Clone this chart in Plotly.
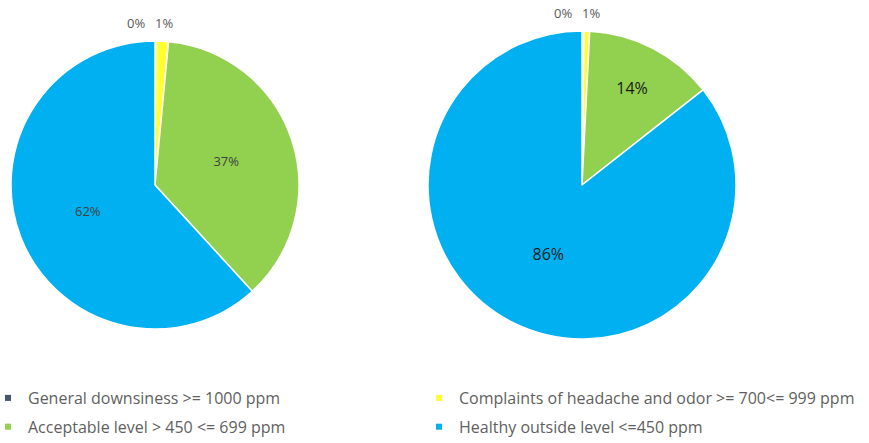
import plotly.graph_objects as go

# CO2 level categories (shared by both pies)
categories = [
    "General downsiness >= 1000 ppm",
    "Complaints of headache and odor >= 700<= 999 ppm",
    "Acceptable level > 450 <= 699 ppm",
    "Healthy outside level <=450 ppm",
]
colors = ["#44546A", "#FFFF33", "#92D050", "#00B0F0"]

# Share of measurements per category (percent)
left_values = [0.1, 1.4, 36.7, 61.8]
right_values = [0.2, 0.6, 13.6, 85.6]

W, H = 869, 443


def domain(cx, cy, r):
    """Pie domain (paper fractions) from a centre and radius in pixels."""
    return dict(
        x=[(cx - r) / W, (cx + r) / W],
        y=[(H - cy - r) / H, (H - cy + r) / H],
    )


def pct(values):
    total = sum(values)
    return [f"{round(v / total * 100)}%" for v in values]


fig = go.Figure()

pies = [
    (left_values, (155, 185, 144), dict(color="#404040", size=13)),
    (right_values, (582, 185, 154), dict(color="#1a1a1a", size=16)),
]

annotations = []
for values, (cx, cy, r), inner_font in pies:
    fig.add_trace(go.Pie(
        labels=categories,
        values=values,
        sort=False,
        direction="clockwise",
        rotation=0,
        marker=dict(colors=colors, line=dict(color="white", width=1.5)),
        texttemplate="%{percent:.0%}",
        # the two thin slices get their labels above the pie instead
        textposition=["none", "none", "inside", "inside"],
        insidetextorientation="horizontal",
        insidetextfont=inner_font,
        hoverinfo="label+percent",
        showlegend=False,
        domain=domain(cx, cy, r),
    ))
    # small-slice labels side by side above the top of the pie
    texts = pct(values)
    for text, dx in zip(texts[:2], (-19, 9)):
        annotations.append(dict(
            x=(cx + dx) / W, y=1 - (cy - r - 18) / H,
            xref="paper", yref="paper",
            text=text, showarrow=False,
            xanchor="center", yanchor="middle",
            font=dict(color="#595959", size=13),
        ))

# Legend entries: two columns, each its own legend
legend_of = ["legend", "legend2", "legend", "legend2"]
for i, (name, col) in enumerate(zip(categories, colors)):
    fig.add_trace(go.Scatter(
        x=[None], y=[None], mode="markers", name=name,
        marker=dict(symbol="square", size=6, color=col),
        legendgroup=f"g{i}",
        legend=legend_of[i],
        hoverinfo="skip",
    ))

legend_style = dict(
    orientation="v",
    yanchor="top",
    xanchor="left",
    bgcolor="rgba(0,0,0,0)",
    font=dict(family="Open Sans, sans-serif", size=16, color="#5f5f5f"),
    tracegroupgap=5,
    itemclick=False,
    itemdoubleclick=False,
)

fig.update_layout(
    width=W,
    height=H,
    margin=dict(l=0, r=0, t=0, b=0, autoexpand=False),
    paper_bgcolor="white",
    plot_bgcolor="white",
    font=dict(family="Open Sans, sans-serif"),
    xaxis=dict(visible=False),
    yaxis=dict(visible=False),
    annotations=annotations,
    legend=dict(x=-12 / W, y=1 - 381 / H, **legend_style),
    legend2=dict(x=419 / W, y=1 - 381 / H, **legend_style),
)

fig.write_html("out.html")
